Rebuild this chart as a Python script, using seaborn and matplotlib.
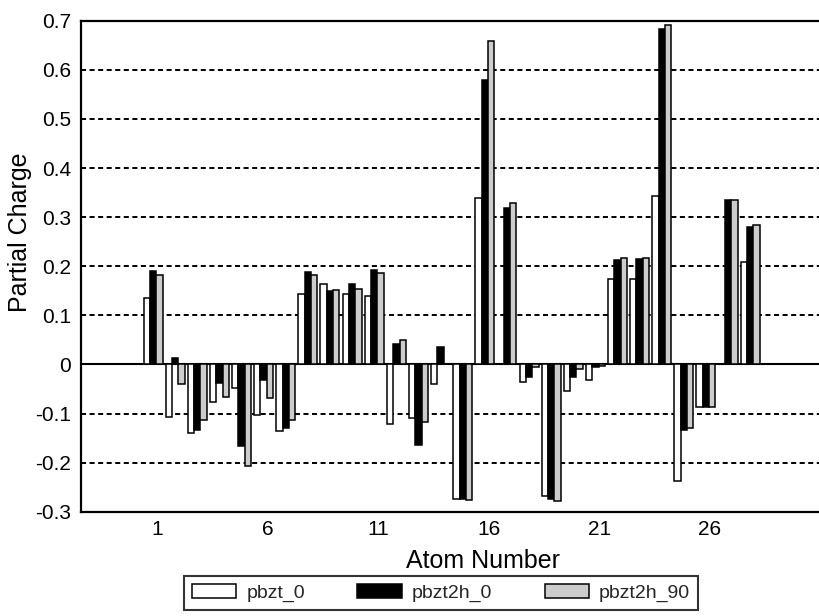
import matplotlib
matplotlib.use("Agg")
import matplotlib.pyplot as plt
import seaborn as sns
import pandas as pd
import numpy as np

# ---- data ----
atoms = list(range(1, 29))
pbzt_0 = [0.136, -0.107, -0.140, -0.077, -0.049, -0.104, -0.136, 0.143, 0.163, 0.143,
          0.140, -0.122, -0.109, -0.039, -0.274, 0.339, 0.0, -0.036, -0.268, -0.054,
          -0.032, 0.173, 0.173, 0.342, -0.238, -0.086, 0.0, 0.209]
pbzt2h_0 = [0.190, 0.014, -0.134, -0.037, -0.166, -0.031, -0.129, 0.188, 0.149, 0.163,
            0.193, 0.041, -0.164, 0.036, -0.275, 0.580, 0.319, -0.025, -0.275, -0.025,
            -0.005, 0.212, 0.215, 0.684, -0.134, -0.086, 0.334, 0.280]
pbzt2h_90 = [0.183, -0.039, -0.114, -0.066, -0.206, -0.069, -0.113, 0.183, 0.151, 0.153,
             0.187, 0.049, -0.117, 0.0, -0.277, 0.658, 0.329, -0.006, -0.278, -0.010,
             -0.003, 0.217, 0.217, 0.692, -0.129, -0.086, 0.334, 0.283]
series_names = ["pbzt_0", "pbzt2h_0", "pbzt2h_90"]
major_ticks = [1, 6, 11, 16, 21, 26]
y_ticks = [0.7, 0.6, 0.5, 0.4, 0.3, 0.2, 0.1, 0.0, -0.1, -0.2, -0.3]
y_tick_labels = ["0.7", "0.6", "0.5", "0.4", "0.3", "0.2", "0.1", "0", "-0.1", "-0.2", "-0.3"]

df = pd.DataFrame({
    "atom": atoms * 3,
    "charge": pbzt_0 + pbzt2h_0 + pbzt2h_90,
    "series": [series_names[0]] * len(atoms) + [series_names[1]] * len(atoms) + [series_names[2]] * len(atoms),
})

sns.set_style("white")
plt.rcParams["font.family"] = ["Liberation Sans", "DejaVu Sans"]

fig = plt.figure(figsize=(8.19, 6.16), dpi=100)
ax = fig.add_axes([80.5 / 819, 1 - 511.7 / 616, (819 - 80.5) / 819, 491 / 616])

palette = ["#ffffff", "#000000", "#cccccc"]
sns.barplot(data=df, x="atom", y="charge", hue="series", hue_order=series_names,
            native_scale=True, palette=palette, edgecolor="black", linewidth=1.1,
            width=0.86, errorbar=None, ax=ax, zorder=3)

# bars sit slightly left of the label centres in the reference
BAR_SHIFT = -0.18
for p in ax.patches:
    p.set_x(p.get_x() + BAR_SHIFT)

ax.set_xlim(-2.46, 30.93)
ax.set_ylim(-0.3, 0.7)

# grid / zero line
for yv in y_ticks:
    if yv not in (0.0, 0.7, -0.3):
        ax.axhline(yv, color="black", lw=1.4, ls=(0, (2.6, 1.8)), zorder=1)
ax.axhline(0.0, color="black", lw=1.5, zorder=2)

ax.set_yticks(y_ticks)
ax.set_yticklabels(y_tick_labels)
ax.set_xticks(major_ticks)
ax.set_xticklabels([str(t) for t in major_ticks])
ax.set_xticks([a + 0.5 for a in atoms[:-1]], minor=True)
ax.tick_params(axis="x", which="major", length=0, labelsize=15, pad=6, colors="black")
ax.tick_params(axis="x", which="minor", length=6, width=1.3, direction="out", color="black")
ax.tick_params(axis="y", which="major", length=6, width=1.3, direction="out",
               labelsize=15, pad=1, colors="black")

for s in ["left", "bottom", "top"]:
    ax.spines[s].set_visible(True)
    ax.spines[s].set_color("black")
    ax.spines[s].set_linewidth(1.6)
ax.spines["right"].set_visible(False)

ax.set_xlabel("Atom Number", fontsize=18, color="black")
ax.set_ylabel("Partial Charge", fontsize=18, color="black")
ax.xaxis.set_label_coords((483 - 80.5) / 738.5, -0.075)
ax.yaxis.set_label_coords(-0.066, (511.7 - 232) / 491)

handles, labels = ax.get_legend_handles_labels()
if ax.legend_ is not None:
    ax.legend_.remove()
leg = fig.legend(handles, labels, loc="center", bbox_to_anchor=(441 / 819, 1 - 593 / 616),
                 ncol=3, frameon=True, fancybox=False, edgecolor="black", fontsize=14,
                 handlelength=2.3, handleheight=0.7, handletextpad=0.5,
                 columnspacing=2.7, borderpad=0.4, borderaxespad=0)
leg.get_frame().set_linewidth(1.5)
for h in leg.legend_handles:
    h.set_edgecolor("black")

fig.savefig("out.png", dpi=100)
